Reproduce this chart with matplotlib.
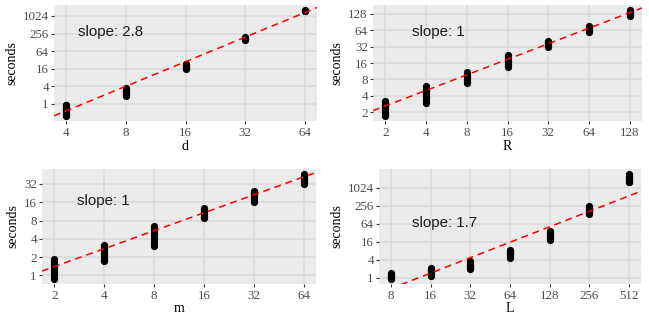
import numpy as np
import matplotlib
matplotlib.use("Agg")
import matplotlib.pyplot as plt

# ---------------- data ----------------
d_levels = [4, 8, 16, 32, 64]
d_seconds = [
    [0.39, 0.42, 0.46, 0.50, 0.55, 0.60, 0.66, 0.73, 0.80, 0.88, 0.94],
    [1.8, 1.95, 2.1, 2.3, 2.5, 2.7, 2.95, 3.2, 3.4],
    [15.8, 16.6, 17.5, 18.5, 19.6, 21.0, 22.3, 23.6],
    [155, 162, 170, 178, 187],
    [1480, 1520, 1560, 1600],
]

R_levels = [2, 4, 8, 16, 32, 64, 128]
R_seconds = [
    [1.72, 1.85, 2.0, 2.15, 2.3, 2.45, 2.6, 2.75, 2.9, 3.05, 3.16],
    [3.0, 3.25, 3.5, 3.75, 4.0, 4.3, 4.6, 4.9, 5.2, 5.6, 6.0],
    [6.9, 7.4, 7.8, 8.3, 8.8, 9.3, 9.8, 10.4, 11.1],
    [13.7, 14.5, 15.5, 16.5, 17.5, 18.5, 19.5, 20.8, 22.2],
    [31.3, 32.6, 34.0, 35.5, 37.0, 38.7, 40.5],
    [59.7, 62.0, 64.0, 67.0, 70.0, 73.5, 77.7],
    [119, 124, 130, 135, 141, 145, 149],
]

m_levels = [2, 4, 8, 16, 32, 64]
m_seconds = [
    [0.88, 0.94, 1.0, 1.07, 1.15, 1.24, 1.35, 1.45, 1.55, 1.68, 1.85],
    [1.7, 1.82, 1.95, 2.1, 2.25, 2.4, 2.55, 2.72, 2.9, 3.05, 3.2],
    [3.1, 3.35, 3.6, 3.9, 4.2, 4.55, 4.9, 5.3, 5.7, 6.15, 6.6],
    [8.7, 9.1, 9.6, 10.1, 10.6, 11.1, 11.6, 12.2, 12.8],
    [16.4, 17.2, 18.0, 19.0, 20.0, 21.0, 22.0, 23.3, 24.6],
    [31.8, 33.4, 35.0, 36.7, 38.5, 40.2, 42.0, 44.0, 46.2],
]

L_levels = [8, 16, 32, 64, 128, 256, 512]
L_seconds = [
    [0.91, 0.96, 1.0, 1.05, 1.1, 1.17, 1.25, 1.35, 1.45],
    [1.15, 1.25, 1.35, 1.47, 1.6, 1.72, 1.85, 2.0, 2.14],
    [2.0, 2.15, 2.3, 2.45, 2.65, 2.85, 3.1, 3.35, 3.6],
    [4.6, 4.95, 5.3, 5.7, 6.2, 6.7, 7.2, 7.9, 8.6],
    [18.3, 19.6, 21.0, 22.7, 24.5, 26.5, 28.5, 32.0, 36.0],
    [136, 145, 155, 166, 178, 193, 210, 230, 254],
    [1540, 1640, 1750, 1870, 2000, 2140, 2300, 2560, 2880],
]

# fitted lines in log2-log2 space: log2(sec) = intercept + slope * log2(x)
fit_slopes = [2.8, 0.95, 0.98, 1.72]
fit_intercepts = [-6.41, 0.425, -0.5, -6.39]
slope_labels = ["slope: 2.8", "slope: 1", "slope: 1", "slope: 1.7"]

x_names = ["d", "R", "m", "L"]
y_ticks = [
    [1, 4, 16, 64, 256, 1024],
    [2, 4, 8, 16, 32, 64, 128],
    [1, 2, 4, 8, 16, 32],
    [1, 4, 16, 64, 256, 1024],
]

# ---------------- layout ----------------
W, H = 649, 324
fig = plt.figure(figsize=(W / 100, H / 100), dpi=100)
fig.patch.set_facecolor("white")

# pixel boxes: (left, right, top, bottom)
boxes = [(54, 317, 5, 121), (373, 642, 5, 121), (42, 316, 169, 284), (379, 641, 169, 284)]
ylab_px = [12, 337, 13, 337]
xlab_py = [147, 147, 309, 309]
text_pos = [(0.213, 0.767), (0.243, 0.77), (0.224, 0.72), (0.25, 0.53)]

serif = ["Liberation Serif", "DejaVu Serif"]
sans = ["Liberation Sans", "DejaVu Sans"]

levels_all = [d_levels, R_levels, m_levels, L_levels]
secs_all = [d_seconds, R_seconds, m_seconds, L_seconds]

for i in range(4):
    l, r, t, b = boxes[i]
    ax = fig.add_axes([l / W, 1 - b / H, (r - l) / W, (b - t) / H])
    ax.set_facecolor("#EBEBEB")
    for s in ax.spines.values():
        s.set_visible(False)
    ax.set_xscale("log", base=2)
    ax.set_yscale("log", base=2)

    xs, ys = [], []
    for lev, vals in zip(levels_all[i], secs_all[i]):
        xs += [lev] * len(vals)
        ys += vals
    xs = np.array(xs, float)
    ys = np.array(ys, float)

    lx = np.log2(xs)
    ly = np.log2(ys)
    xr = lx.max() - lx.min()
    yr = ly.max() - ly.min()
    xlo, xhi = lx.min() - 0.05 * xr, lx.max() + 0.05 * xr
    ylo, yhi = ly.min() - 0.05 * yr, ly.max() + 0.05 * yr
    ax.set_xlim(2 ** xlo, 2 ** xhi)
    ax.set_ylim(2 ** ylo, 2 ** yhi)

    ax.grid(True, which="major", color="#DADADA", linewidth=1.1, zorder=0)
    ax.set_axisbelow(True)

    ax.plot(xs, ys, "o", color="black", markersize=5.2, markeredgewidth=0, zorder=2)

    lxl = np.array([xlo, xhi])
    lyl = fit_intercepts[i] + fit_slopes[i] * lxl
    ax.plot(2 ** lxl, 2 ** lyl, color="#FF0000", linewidth=1.1,
            dashes=(4.5, 3.2), zorder=3, clip_on=True)

    ax.set_xticks(levels_all[i])
    ax.set_xticklabels([str(v) for v in levels_all[i]])
    ax.set_yticks(y_ticks[i])
    ax.set_yticklabels([str(v) for v in y_ticks[i]])
    ax.minorticks_off()
    ax.tick_params(axis="both", which="major", length=2.5, width=0.8,
                   color="#333333", labelcolor="#4D4D4D", labelsize=9.4)
    ax.tick_params(axis="x", pad=1.5)
    ax.tick_params(axis="y", pad=1.2)
    for lab in ax.get_xticklabels() + ax.get_yticklabels():
        lab.set_family(serif)

    ax.set_xlabel(x_names[i], family=serif, fontsize=10, color="black", va="center")
    ax.xaxis.set_label_coords(0.5, (b - xlab_py[i]) / (b - t))
    ax.set_ylabel("seconds", family=serif, fontsize=10, color="black", va="center")
    ax.yaxis.set_label_coords((ylab_px[i] - l) / (r - l), 0.5)

    ax.text(text_pos[i][0], text_pos[i][1], slope_labels[i], transform=ax.transAxes,
            ha="center", va="center", family=sans, fontsize=10.8, color="#1A1A1A")

fig.savefig("out.png", dpi=100, facecolor="white")
